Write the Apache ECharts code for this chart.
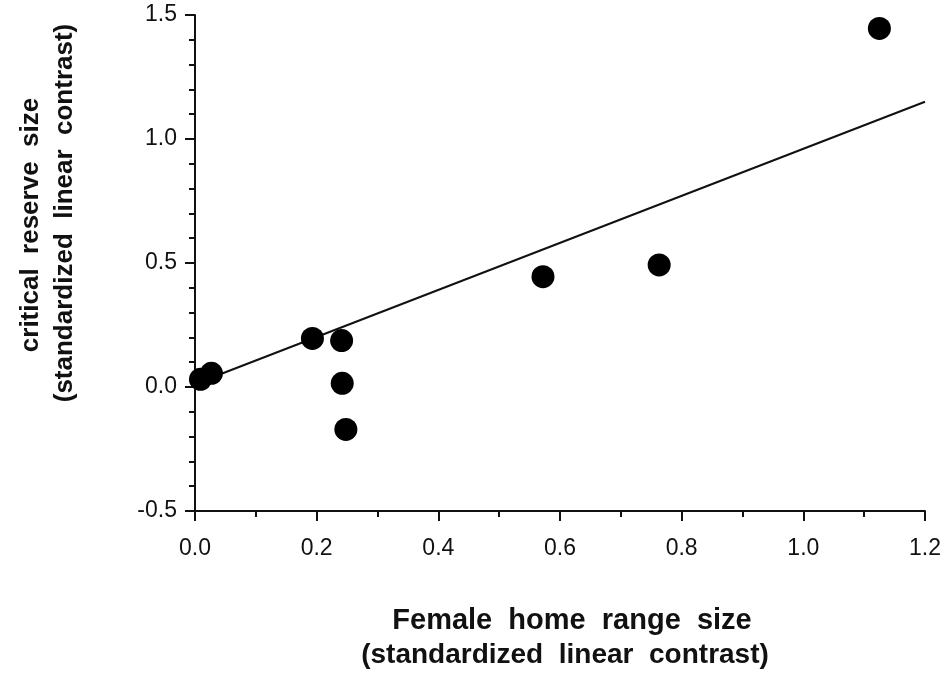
<!DOCTYPE html>
<html>
<head>
<meta charset="utf-8">
<script src="https://cdn.jsdelivr.net/npm/echarts@6/dist/echarts.min.js"></script>
<style>
  html, body { margin: 0; padding: 0; background: #fff; }
  #chart { width: 944px; height: 674px; }
</style>
</head>
<body>
<div id="chart"></div>
<script>
// Standardized linear contrasts: female home range size vs. critical reserve size
const homeRange = [0.009, 0.027, 0.193, 0.241, 0.242, 0.248, 0.572, 0.763, 1.125];
const reserveSize = [0.031, 0.055, 0.196, 0.187, 0.015, -0.171, 0.445, 0.492, 1.446];

// Fitted regression line (end points)
const fitX = [0, 1.2];
const fitY = [0.012, 1.15];

const xTitleLines = ['Female  home  range  size', '(standardized  linear  contrast)'];
const yTitleLines = ['critical  reserve  size', '(standardized  linear  contrast)'];

const FONT = '"Liberation Sans", Arial, Helvetica, sans-serif';
const INK = '#111';

const points = homeRange.map((x, i) => [x, reserveSize[i]]);
const fitLine = fitX.map((x, i) => [x, fitY[i]]);

const axisCommon = {
  axisLine: { show: true, onZero: false, lineStyle: { color: INK, width: 2 } },
  axisTick: { show: true, inside: false, length: 10, lineStyle: { color: INK, width: 2 } },
  minorTick: { show: true, length: 6, lineStyle: { color: INK, width: 2 } },
  splitLine: { show: false },
  axisLabel: { color: INK, fontFamily: FONT, fontSize: 23 }
};

const titleStyle = (text, size) => ({
  text: text, fill: INK, font: 'bold ' + size + 'px ' + FONT,
  textAlign: 'center', textVerticalAlign: 'middle'
});

const chart = echarts.init(document.getElementById('chart'));
chart.setOption({
  backgroundColor: '#fff',
  animation: false,
  grid: { left: 195, right: 15, top: 15, bottom: 163, containLabel: false },
  xAxis: Object.assign({}, axisCommon, {
    type: 'value', min: 0, max: 1.2, interval: 0.2,
    minorTick: Object.assign({}, axisCommon.minorTick, { splitNumber: 2 }),
    axisLabel: Object.assign({}, axisCommon.axisLabel, { margin: 26, formatter: v => v.toFixed(1) })
  }),
  yAxis: Object.assign({}, axisCommon, {
    type: 'value', min: -0.5, max: 1.5, interval: 0.5,
    minorTick: Object.assign({}, axisCommon.minorTick, { splitNumber: 5 }),
    axisLabel: Object.assign({}, axisCommon.axisLabel, { margin: 18, formatter: v => v.toFixed(1) })
  }),
  graphic: [
    { type: 'text', x: 572, y: 621, style: titleStyle(xTitleLines[0], 29) },
    { type: 'text', x: 565, y: 655, style: titleStyle(xTitleLines[1], 28) },
    { type: 'text', x: 31, y: 225, rotation: Math.PI / 2, style: titleStyle(yTitleLines[0], 26) },
    { type: 'text', x: 65, y: 213, rotation: Math.PI / 2, style: titleStyle(yTitleLines[1], 26) }
  ],
  series: [
    {
      type: 'line', data: fitLine, symbol: 'none', silent: true, z: 1,
      lineStyle: { color: INK, width: 2 }
    },
    {
      type: 'scatter', data: points, symbol: 'circle', symbolSize: 23, z: 2,
      itemStyle: { color: '#000', opacity: 1 }
    }
  ]
});
</script>
</body>
</html>
